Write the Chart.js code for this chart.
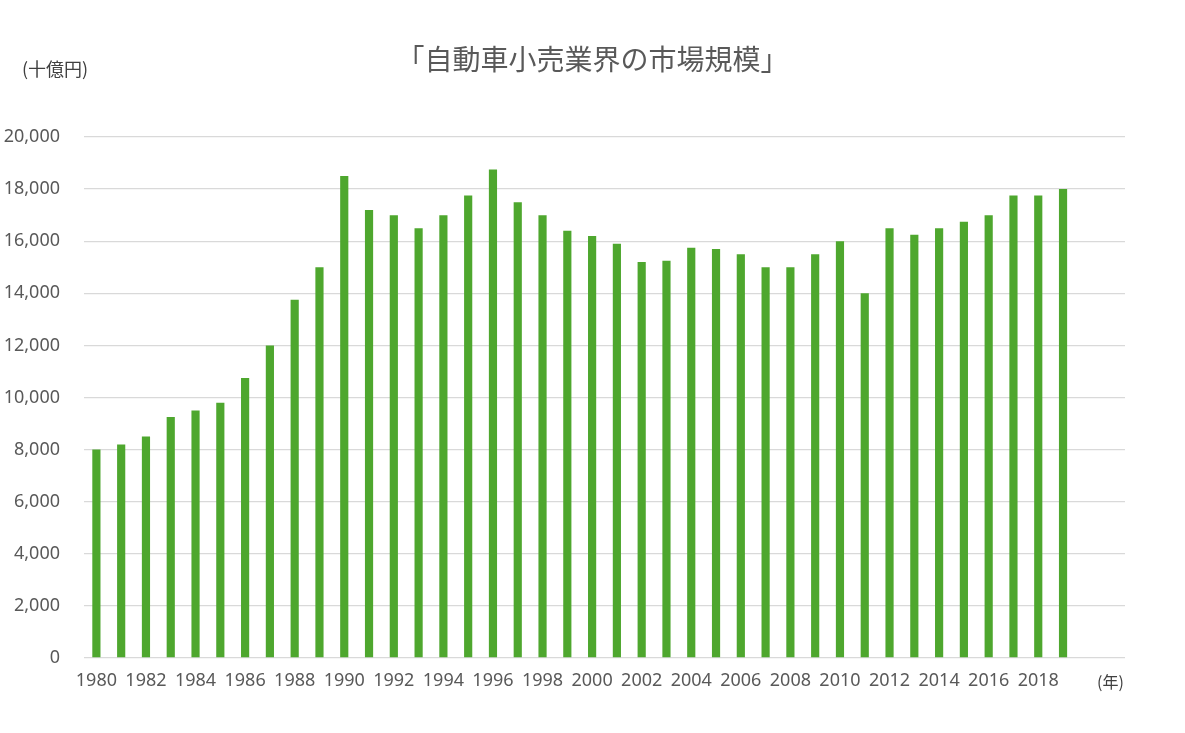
<!DOCTYPE html>
<html lang="ja">
<head>
<meta charset="utf-8">
<title>自動車小売業界の市場規模</title>
<script src="https://cdn.jsdelivr.net/npm/chart.js@4/dist/chart.umd.min.js"></script>
<style>
  body { margin: 0; background: #fff; }
  #wrap { position: relative; width: 1185px; height: 733px; }
  .txt { position: absolute; font-family: "Noto Sans CJK JP", "Noto Sans", sans-serif; color: #404040; line-height: 1; white-space: nowrap; }
  #title { left: 0; width: 1185px; top: 44px; text-align: center; font-size: 28px; color: #595959; }
</style>
</head>
<body>
<div id="wrap">
  <canvas id="marketChart" width="1185" height="733"></canvas>
  <div id="title" class="txt">「自動車小売業界の市場規模」</div>
  <div class="txt" style="left:22px; top:59px; font-size:18px;">(十億円)</div>
  <div class="txt" style="left:1097px; top:673px; font-size:16px;">(年)</div>
</div>
<script>
// ---------------- データ ----------------
const years = [
  '1980','1981','1982','1983','1984','1985','1986','1987','1988','1989',
  '1990','1991','1992','1993','1994','1995','1996','1997','1998','1999',
  '2000','2001','2002','2003','2004','2005','2006','2007','2008','2009',
  '2010','2011','2012','2013','2014','2015','2016','2017','2018','2019',
  '', ''
];
// 市場規模（十億円）
const marketSize = [
  8000, 8200, 8500, 9250, 9500, 9800, 10750, 12000, 13750, 15000,
  18500, 17200, 17000, 16500, 17000, 17750, 18750, 17500, 17000, 16400,
  16200, 15900, 15200, 15250, 15750, 15700, 15500, 15000, 15000, 15500,
  16000, 14000, 16500, 16250, 16500, 16750, 17000, 17750, 17750, 18000,
  null, null
];
const yTicks = [0, 2000, 4000, 6000, 8000, 10000, 12000, 14000, 16000, 18000, 20000];

const tickFont = { family: "'Noto Sans', 'Noto Sans CJK JP', sans-serif", size: 18 };
const tickColor = '#595959';
const gridColor = '#d9d9d9';

// ---------------- グラフ ----------------
const ctx = document.getElementById('marketChart').getContext('2d');
new Chart(ctx, {
  type: 'bar',
  data: {
    labels: years,
    datasets: [{
      label: '市場規模',
      data: marketSize,
      backgroundColor: '#4ea72e',
      barPercentage: 0.33,
      categoryPercentage: 1
    }]
  },
  options: {
    responsive: false,
    animation: false,
    layout: { padding: { left: 0, right: 60, top: 137, bottom: 0 } },
    plugins: {
      legend: { display: false },
      tooltip: { enabled: false }
    },
    scales: {
      x: {
        grid: { display: false, drawTicks: false },
        border: { display: false },
        ticks: {
          color: tickColor,
          font: tickFont,
          autoSkip: false,
          maxRotation: 0,
          padding: 12,
          callback: (v, i) => (i % 2 === 0 ? years[i] : '')
        },
        afterFit: s => { s.height = 75; }
      },
      y: {
        min: 0,
        max: 20000,
        afterBuildTicks: s => { s.ticks = yTicks.map(v => ({ value: v })); },
        grid: { color: gridColor, lineWidth: 1.3, drawTicks: false },
        border: { display: false },
        ticks: {
          color: tickColor,
          font: tickFont,
          padding: 24,
          callback: v => v.toLocaleString('en-US')
        },
        afterFit: s => { s.width = 84; }
      }
    }
  }
});
</script>
</body>
</html>
